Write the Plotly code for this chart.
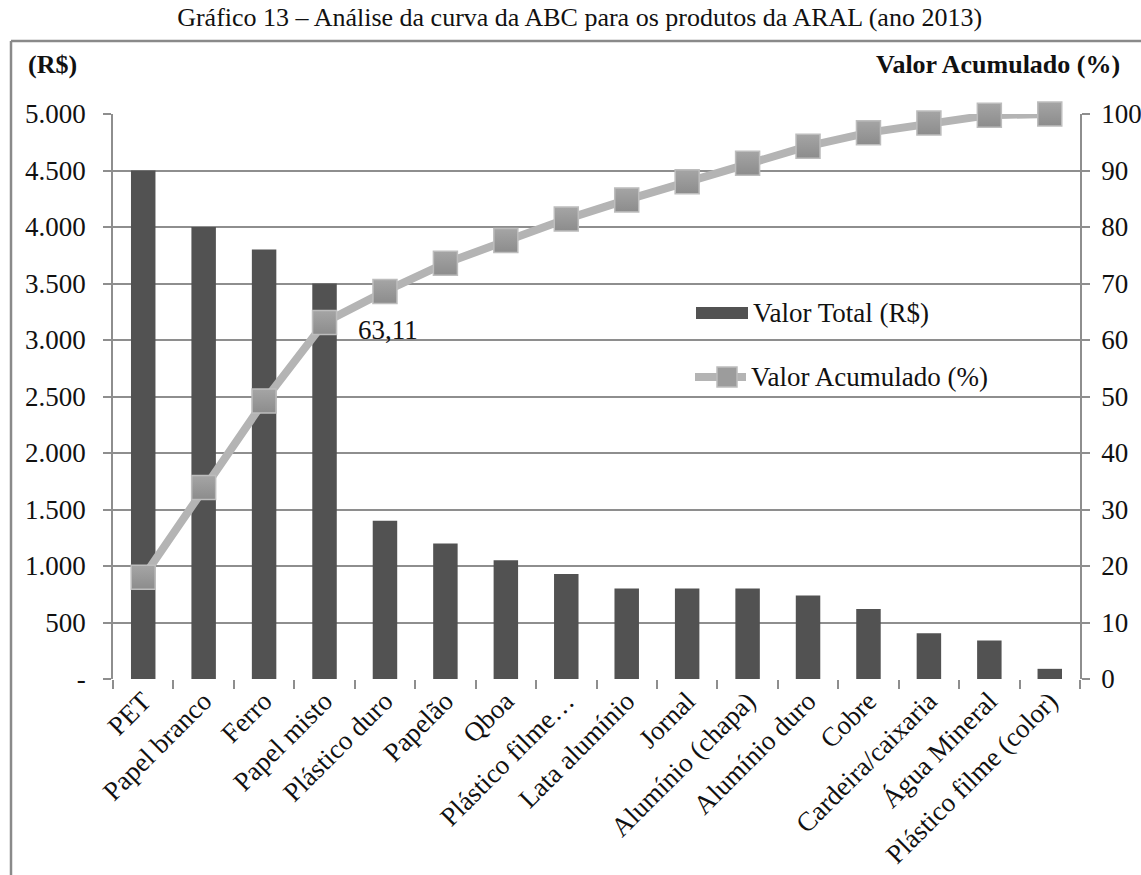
import plotly.graph_objects as go

# Produtos e valores (R$) - ano 2013
produtos = [
    "PET", "Papel branco", "Ferro", "Papel misto", "Plástico duro", "Papelão",
    "Qboa", "Plástico filme…", "Lata alumínio", "Jornal", "Alumínio (chapa)",
    "Alumínio duro", "Cobre", "Cardeira/caixaria", "Água Mineral",
    "Plástico filme (color)",
]
valor_total = [4500, 4000, 3800, 3500, 1400, 1200, 1050, 930, 800, 800, 800,
               740, 620, 405, 340, 90]
valor_acumulado = [18.0, 33.9, 49.2, 63.11, 68.6, 73.6, 77.6, 81.4, 84.8, 88.0,
                   91.3, 94.3, 96.7, 98.4, 99.8, 100.0]

left_ticks = [0, 500, 1000, 1500, 2000, 2500, 3000, 3500, 4000, 4500, 5000]
left_ticktext = ["-", "500", "1.000", "1.500", "2.000", "2.500", "3.000",
                 "3.500", "4.000", "4.500", "5.000"]
right_ticks = [0, 10, 20, 30, 40, 50, 60, 70, 80, 90, 100]

FONT = "Liberation Serif, Times New Roman, serif"
GRID = "#8e8e8e"
BAR = "#525252"
LINE = "#b4b4b4"
TXT = "#111"

W, H = 1141, 875
ML, MR, MT, MB = 113, 61, 114, 196
PW, PH = W - ML - MR, H - MT - MB


def px(x):
    return (x - ML) / PW


def py(y):
    return (H - MB - y) / PH


fig = go.Figure()

fig.add_trace(go.Bar(
    x=produtos, y=valor_total, name="Valor Total (R$)",
    marker=dict(color=BAR, line=dict(width=0)),
    showlegend=False, yaxis="y",
))

fig.add_trace(go.Scatter(
    x=produtos, y=valor_acumulado, name="Valor Acumulado (%)",
    mode="lines+markers", yaxis="y2",
    line=dict(color=LINE, width=8),
    marker=dict(symbol="square", size=24, color="#a5a5a5",
                gradient=dict(type="vertical", color="#8c8c8c"),
                line=dict(color="#bdbdbd", width=1.5)),
    showlegend=False, cliponaxis=False,
))

# rótulo do ponto "Papel misto"
fig.add_annotation(
    x=produtos[3], y=valor_acumulado[3], yref="y2",
    text=f"{valor_acumulado[3]:.2f}".replace(".", ","),
    showarrow=False, xanchor="left", yanchor="middle",
    xshift=31, yshift=-8,
    font=dict(family=FONT, size=27, color=TXT),
)

shapes = []
annotations = []

# moldura externa (topo e esquerda)
shapes.append(dict(type="line", xref="paper", yref="paper",
                   x0=px(11), x1=px(W + 5), y0=py(41), y1=py(41),
                   line=dict(color="#8a8a8a", width=2.5)))
shapes.append(dict(type="line", xref="paper", yref="paper",
                   x0=px(11), x1=px(11), y0=py(41), y1=py(H + 5),
                   line=dict(color="#8a8a8a", width=2.5)))

# legenda
shapes.append(dict(type="rect", xref="paper", yref="paper",
                   x0=px(696), x1=px(748), y0=py(307), y1=py(319),
                   fillcolor=BAR, line=dict(width=0)))
shapes.append(dict(type="line", xref="paper", yref="paper",
                   x0=px(695), x1=px(746), y0=py(377), y1=py(377),
                   line=dict(color=LINE, width=8)))
shapes.append(dict(type="rect", xref="paper", yref="paper",
                   x0=px(717), x1=px(737), y0=py(367), y1=py(387),
                   fillcolor="#9c9c9c", line=dict(color="#bdbdbd", width=1.5)))
annotations.append(dict(xref="paper", yref="paper", x=px(751), y=py(313),
                        text="Valor Total (R$)", showarrow=False,
                        xanchor="left", yanchor="middle",
                        font=dict(family=FONT, size=27, color=TXT)))
annotations.append(dict(xref="paper", yref="paper", x=px(749), y=py(377),
                        text="Valor Acumulado (%)", showarrow=False,
                        xanchor="left", yanchor="middle",
                        font=dict(family=FONT, size=27, color=TXT)))

# títulos dos eixos
annotations.append(dict(xref="paper", yref="paper", x=px(26), y=py(64),
                        text="<b>(R$)</b>", showarrow=False,
                        xanchor="left", yanchor="middle",
                        font=dict(family=FONT, size=26, color=TXT)))
annotations.append(dict(xref="paper", yref="paper", x=px(1122), y=py(64),
                        text="<b>Valor Acumulado (%)</b>", showarrow=False,
                        xanchor="right", yanchor="middle",
                        font=dict(family=FONT, size=26, color=TXT)))

fig.update_layout(
    width=W, height=H,
    margin=dict(l=ML, r=MR, t=MT, b=MB, autoexpand=False),
    paper_bgcolor="white", plot_bgcolor="white",
    title=dict(
        text="Gráfico 13 – Análise da curva da ABC para os produtos da ARAL (ano 2013)",
        x=0.508, xanchor="center", y=1 - 17 / H, yanchor="middle",
        font=dict(family=FONT, size=26, color=TXT),
    ),
    bargap=0.595,
    xaxis=dict(
        type="category", range=[-0.5, len(produtos) - 0.5],
        tickangle=-45, tickson="boundaries",
        ticks="outside", ticklen=9, tickcolor=GRID, tickwidth=1.5,
        showgrid=False, showline=False, zeroline=False,
        tickfont=dict(family=FONT, size=27, color=TXT),
    ),
    yaxis=dict(
        range=[0, 5000], tickvals=left_ticks, ticktext=left_ticktext,
        ticks="outside", ticklen=8, tickcolor=GRID, tickwidth=1.5,
        showgrid=True, gridcolor=GRID, gridwidth=1.5,
        showline=True, linecolor=GRID, linewidth=1.5,
        zeroline=False, ticklabelstandoff=12,
        tickfont=dict(family=FONT, size=27, color=TXT),
    ),
    yaxis2=dict(
        range=[0, 100], tickvals=right_ticks, overlaying="y", side="right",
        ticks="outside", ticklen=8, tickcolor=GRID, tickwidth=1.5,
        showgrid=False, showline=True, linecolor=GRID, linewidth=1.5,
        zeroline=False, ticklabelstandoff=6,
        tickfont=dict(family=FONT, size=27, color=TXT),
    ),
    shapes=shapes,
    annotations=list(fig.layout.annotations) + annotations,
    showlegend=False,
)

fig.write_html("out.html")
